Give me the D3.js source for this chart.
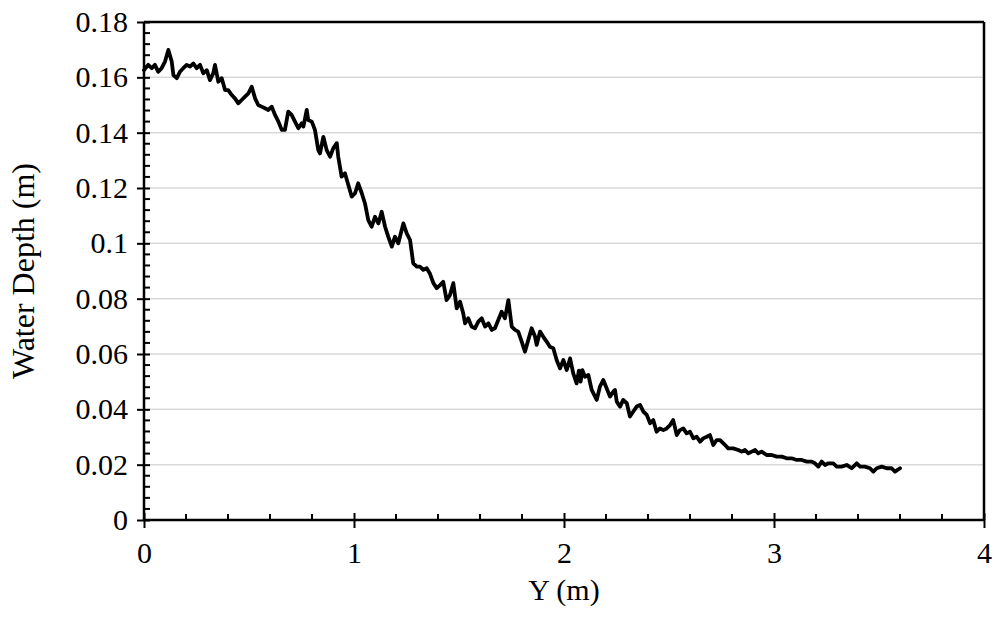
<!DOCTYPE html>
<html>
<head>
<meta charset="utf-8">
<script src="https://cdn.jsdelivr.net/npm/d3@7"></script>
<style>
  html, body { margin: 0; padding: 0; background: #fff; }
  svg text { font-family: "Liberation Serif", "Times New Roman", serif; fill: #000; }
</style>
</head>
<body>
<svg id="chart" width="995" height="621"></svg>
<script>
// ---- data ----
const yPos = [0.000,0.020,0.037,0.052,0.068,0.084,0.100,0.116,0.132,0.140,0.156,0.171,0.187,0.203,0.219,0.235,0.251,0.267,0.282,0.299,0.314,0.330,0.338,0.354,0.370,0.386,0.401,0.418,0.433,0.449,0.465,0.481,0.497,0.513,0.529,0.544,0.560,0.576,0.592,0.608,0.624,0.640,0.656,0.671,0.687,0.703,0.719,0.735,0.751,0.759,0.775,0.782,0.799,0.814,0.830,0.838,0.854,0.870,0.886,0.901,0.918,0.925,0.941,0.957,0.973,0.989,1.005,1.020,1.037,1.052,1.068,1.084,1.100,1.116,1.132,1.148,1.163,1.180,1.195,1.211,1.227,1.235,1.251,1.267,1.282,1.299,1.314,1.330,1.346,1.362,1.378,1.394,1.410,1.425,1.441,1.457,1.473,1.489,1.505,1.520,1.529,1.544,1.560,1.576,1.592,1.608,1.624,1.640,1.656,1.671,1.687,1.703,1.719,1.735,1.751,1.767,1.782,1.799,1.814,1.830,1.846,1.862,1.870,1.886,1.901,1.918,1.933,1.949,1.965,1.981,1.997,2.013,2.029,2.044,2.060,2.071,2.079,2.087,2.100,2.116,2.132,2.148,2.156,2.171,2.187,2.203,2.219,2.235,2.243,2.251,2.267,2.282,2.299,2.314,2.330,2.346,2.362,2.378,2.394,2.410,2.425,2.441,2.457,2.473,2.489,2.505,2.520,2.537,2.552,2.568,2.584,2.600,2.616,2.632,2.648,2.663,2.680,2.695,2.711,2.727,2.743,2.759,2.767,2.782,2.806,2.830,2.846,2.862,2.878,2.894,2.910,2.925,2.941,2.965,2.989,3.013,3.037,3.060,3.084,3.108,3.132,3.156,3.180,3.195,3.211,3.227,3.243,3.259,3.282,3.299,3.322,3.346,3.370,3.394,3.410,3.433,3.457,3.473,3.489,3.513,3.537,3.560,3.576,3.600];
const depth = [0.1626,0.1645,0.1633,0.1645,0.1620,0.1633,0.1657,0.1699,0.1657,0.1608,0.1597,0.1620,0.1633,0.1645,0.1639,0.1650,0.1633,0.1645,0.1615,0.1626,0.1590,0.1615,0.1645,0.1584,0.1597,0.1554,0.1554,0.1536,0.1524,0.1506,0.1518,0.1530,0.1542,0.1566,0.1524,0.1500,0.1494,0.1488,0.1482,0.1494,0.1464,0.1440,0.1410,0.1410,0.1476,0.1464,0.1440,0.1416,0.1434,0.1422,0.1482,0.1446,0.1440,0.1410,0.1337,0.1325,0.1385,0.1337,0.1313,0.1343,0.1362,0.1313,0.1241,0.1253,0.1211,0.1169,0.1181,0.1217,0.1181,0.1145,0.1084,0.1060,0.1096,0.1072,0.1114,0.1060,0.1024,0.0988,0.1024,0.1000,0.1048,0.1072,0.1036,0.1012,0.0928,0.0916,0.0916,0.0904,0.0910,0.0890,0.0856,0.0838,0.0849,0.0861,0.0795,0.0813,0.0856,0.0765,0.0789,0.0747,0.0711,0.0729,0.0699,0.0693,0.0717,0.0729,0.0699,0.0711,0.0687,0.0693,0.0723,0.0753,0.0729,0.0795,0.0699,0.0687,0.0681,0.0644,0.0608,0.0651,0.0693,0.0663,0.0633,0.0681,0.0663,0.0644,0.0626,0.0621,0.0578,0.0548,0.0578,0.0542,0.0584,0.0530,0.0494,0.0540,0.0500,0.0542,0.0518,0.0524,0.0470,0.0446,0.0434,0.0482,0.0506,0.0476,0.0446,0.0464,0.0470,0.0428,0.0410,0.0434,0.0422,0.0374,0.0392,0.0410,0.0416,0.0392,0.0380,0.0350,0.0361,0.0319,0.0331,0.0325,0.0331,0.0343,0.0361,0.0307,0.0325,0.0331,0.0313,0.0319,0.0295,0.0301,0.0283,0.0295,0.0301,0.0307,0.0271,0.0289,0.0289,0.0277,0.0271,0.0259,0.0259,0.0253,0.0247,0.0253,0.0241,0.0247,0.0253,0.0241,0.0247,0.0235,0.0235,0.0229,0.0229,0.0223,0.0223,0.0217,0.0217,0.0211,0.0211,0.0205,0.0193,0.0211,0.0199,0.0205,0.0205,0.0193,0.0193,0.0199,0.0187,0.0205,0.0193,0.0193,0.0187,0.0175,0.0187,0.0193,0.0187,0.0187,0.0175,0.0187];
const xTicks = [0, 1, 2, 3, 4];
const yTicks = [0, 0.02, 0.04, 0.06, 0.08, 0.1, 0.12, 0.14, 0.16, 0.18];
const xTitle = "Y (m)";
const yTitle = "Water Depth (m)";

// ---- layout ----
const svg = d3.select("#chart");
const pL = 144, pR = 984, pT = 22, pB = 520;
const x = d3.scaleLinear().domain([0, 4]).range([pL, pR]);
const y = d3.scaleLinear().domain([0, 0.18]).range([pB, pT]);
const font = 30;

// gridlines
svg.append("g").selectAll("line")
  .data(yTicks.filter(d => d > 0 && d < 0.18))
  .join("line")
  .attr("x1", pL).attr("x2", pR)
  .attr("y1", d => y(d)).attr("y2", d => y(d))
  .attr("stroke", "#d9d9d9").attr("stroke-width", 1.5);

// minor ticks
const yMinor = d3.range(0, 0.1801, 0.004).filter(v => Math.abs(v / 0.02 - Math.round(v / 0.02)) > 1e-6);
const xMinor = d3.range(0, 4.001, 0.2).filter(v => Math.abs(v - Math.round(v)) > 1e-6);
svg.append("g").selectAll("line").data(yMinor).join("line")
  .attr("x1", pL).attr("x2", pL + 6)
  .attr("y1", d => y(d)).attr("y2", d => y(d))
  .attr("stroke", "#000").attr("stroke-width", 2);
svg.append("g").selectAll("line").data(xMinor).join("line")
  .attr("x1", d => x(d)).attr("x2", d => x(d))
  .attr("y1", pB).attr("y2", pB - 6)
  .attr("stroke", "#000").attr("stroke-width", 2);

// frame (top and right)
svg.append("line").attr("x1", pL).attr("x2", pR).attr("y1", pT).attr("y2", pT)
  .attr("stroke", "#000").attr("stroke-width", 2.5);
svg.append("line").attr("x1", pR).attr("x2", pR).attr("y1", pT).attr("y2", pB)
  .attr("stroke", "#000").attr("stroke-width", 2.5);

// data line
const line = d3.line().x((d, i) => x(yPos[i])).y(d => y(d));
svg.append("path").datum(depth)
  .attr("d", line)
  .attr("fill", "none").attr("stroke", "#000").attr("stroke-width", 3.8)
  .attr("stroke-linejoin", "round").attr("stroke-linecap", "round");

// axes
const xAxis = svg.append("g").attr("transform", `translate(0,${pB})`)
  .call(d3.axisBottom(x).tickValues(xTicks).tickFormat(d3.format("d")).tickSize(7).tickPadding(15));
xAxis.select(".domain").attr("stroke", "#000").attr("stroke-width", 2.5).attr("d", `M${pL},0H${pR}`);
xAxis.selectAll(".tick line").attr("y1", -7).attr("y2", 8).attr("stroke-width", 2);
xAxis.selectAll(".tick text").attr("font-size", font).attr("font-family", "Liberation Serif");

const yAxis = svg.append("g").attr("transform", `translate(${pL},0)`)
  .call(d3.axisLeft(y).tickValues(yTicks).tickFormat(d => d === 0 ? "0" : String(+d.toFixed(2))).tickSize(7).tickPadding(9));
yAxis.select(".domain").attr("stroke", "#000").attr("stroke-width", 2.5).attr("d", `M0,${pT}V${pB}`);
yAxis.selectAll(".tick line").attr("x1", 6).attr("x2", -7).attr("stroke-width", 2);
yAxis.selectAll(".tick text").attr("font-size", font).attr("font-family", "Liberation Serif");

// titles
svg.append("text").attr("x", (pL + pR) / 2).attr("y", 600)
  .attr("text-anchor", "middle").attr("font-size", font).text(xTitle);
svg.append("text").attr("transform", `translate(34,${(pT + pB) / 2}) rotate(-90)`)
  .attr("text-anchor", "middle").attr("font-size", 32).text(yTitle);
</script>
</body>
</html>
